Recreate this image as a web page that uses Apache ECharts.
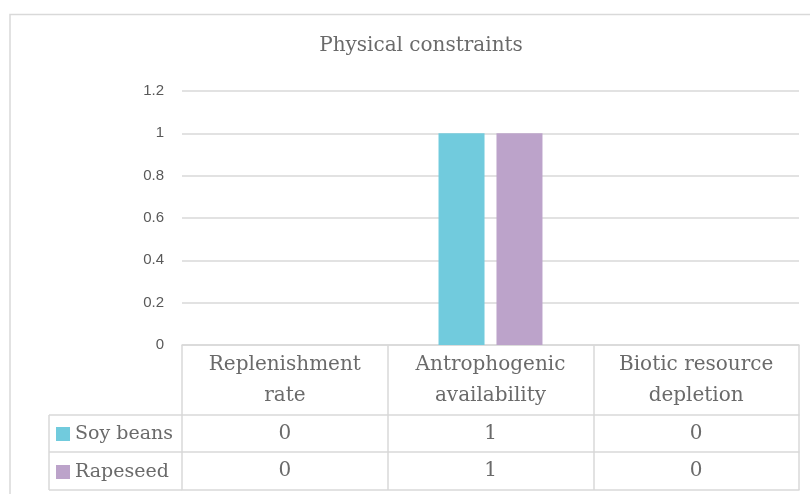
<!DOCTYPE html>
<html>
<head>
<meta charset="utf-8">
<style>
  html, body { margin: 0; padding: 0; background: #fff; }
  #chart { width: 810px; height: 494px; }
</style>
<script src="https://cdn.jsdelivr.net/npm/echarts@6/dist/echarts.min.js"></script>
</head>
<body>
<div id="chart"></div>
<script>
// chart data
const categories = ['Replenishment\nrate', 'Antrophogenic\navailability', 'Biotic resource\ndepletion']
const seriesNames = ['Soy beans', 'Rapeseed']
const soyBeans = [0, 1, 0]
const rapeseed = [0, 1, 0]
const yTicks = [0, 0.2, 0.4, 0.6, 0.8, 1, 1.2]

const serif = "'DejaVu Serif', 'Liberation Serif', serif"
const sans = "'Liberation Sans', 'Noto Sans', sans-serif"
const textColor = '#6a6a6a'
const lineColor = '#d9d9d9'

const chart = echarts.init(document.getElementById('chart'))

// one extra x axis per row of the data table under the plot
function tableAxis(offset, tickLen, values) {
  return {
    type: 'category',
    data: categories,
    position: 'bottom',
    offset: offset,
    axisLine: { show: true, lineStyle: { color: lineColor, width: 1.5 } },
    axisTick: { show: tickLen > 0, length: tickLen, lineStyle: { color: lineColor, width: 1.5 } },
    axisLabel: {
      show: !!values,
      margin: 0,
      interval: 0,
      fontFamily: serif,
      fontSize: 20,
      lineHeight: 38,
      color: textColor,
      formatter: function (v, i) { return values ? String(values[i]) : '' }
    },
    splitLine: { show: false }
  }
}

const option = {
  animation: false,
  title: {
    text: 'Physical constraints',
    left: 416,
    top: 31,
    textAlign: 'center',
    textStyle: { fontFamily: serif, fontSize: 20, fontWeight: 'normal', color: textColor }
  },
  legend: {
    orient: 'vertical',
    left: 51,
    top: 419,
    icon: 'rect',
    itemWidth: 14,
    itemHeight: 14,
    itemGap: 18,
    itemTextGap: 6,
    selectedMode: false,
    data: seriesNames,
    textStyle: { fontFamily: serif, fontSize: 19, lineHeight: 20, color: textColor }
  },
  grid: { left: 182, right: 11, top: 91, bottom: 149, containLabel: false },
  xAxis: [
    {
      type: 'category',
      data: categories,
      axisLine: { show: true, lineStyle: { color: lineColor, width: 1.5 } },
      axisTick: { show: true, length: 70, lineStyle: { color: lineColor, width: 1.5 } },
      axisLabel: {
        interval: 0,
        margin: 4,
        fontFamily: serif,
        fontSize: 20,
        lineHeight: 31,
        color: textColor
      }
    },
    tableAxis(70, 37, soyBeans),
    tableAxis(107, 38, rapeseed),
    tableAxis(145, 0, null)
  ],
  yAxis: {
    type: 'value',
    min: yTicks[0],
    max: yTicks[yTicks.length - 1],
    interval: 0.2,
    axisLine: { show: false },
    axisTick: { show: false },
    axisLabel: {
      margin: 18,
      fontFamily: sans,
      fontSize: 15,
      color: '#595959',
      formatter: function (v) { return String(Math.round(v * 10) / 10) }
    },
    splitLine: { lineStyle: { color: lineColor, width: 1.5 } }
  },
  series: [
    {
      name: seriesNames[0],
      type: 'bar',
      data: soyBeans,
      barWidth: 46,
      barGap: '26%',
      itemStyle: { color: '#71cbdd' }
    },
    {
      name: seriesNames[1],
      type: 'bar',
      data: rapeseed,
      barWidth: 46,
      itemStyle: { color: '#bca3ca' }
    }
  ],
  graphic: [
    // outer chart border
    { type: 'rect', shape: { x: 10, y: 14.5, width: 830, height: 520 }, style: { fill: null, stroke: lineColor, lineWidth: 1.5 } },
    // legend column of the data table
    { type: 'line', shape: { x1: 49, y1: 415, x2: 182, y2: 415 }, style: { stroke: lineColor, lineWidth: 1.5 } },
    { type: 'line', shape: { x1: 49, y1: 452, x2: 182, y2: 452 }, style: { stroke: lineColor, lineWidth: 1.5 } },
    { type: 'line', shape: { x1: 49, y1: 490, x2: 182, y2: 490 }, style: { stroke: lineColor, lineWidth: 1.5 } },
    { type: 'line', shape: { x1: 49, y1: 415, x2: 49, y2: 490 }, style: { stroke: lineColor, lineWidth: 1.5 } }
  ]
}

chart.setOption(option)
</script>
</body>
</html>
